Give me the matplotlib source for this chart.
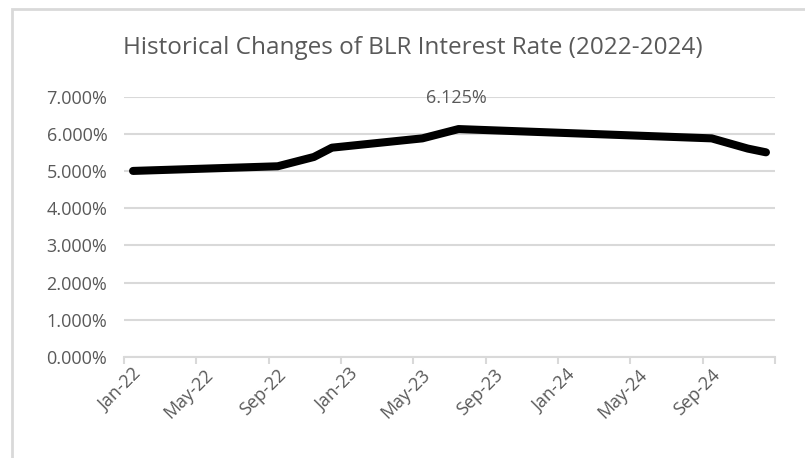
import numpy as np
import matplotlib.pyplot as plt
from matplotlib.patches import Rectangle

# data points (month, BLR %)
dates = ['2022-01', '2022-09', '2022-11', '2022-12', '2023-05',
         '2023-07', '2024-09', '2024-11', '2024-12']
rates = [5.0, 5.125, 5.375, 5.625, 5.875, 6.125, 5.875, 5.6, 5.5]

tick_labels = ['Jan-22', 'May-22', 'Sep-22', 'Jan-23', 'May-23',
               'Sep-23', 'Jan-24', 'May-24', 'Sep-24']
yticks = [0, 1, 2, 3, 4, 5, 6, 7]

plt.rcParams['font.family'] = ['Open Sans', 'DejaVu Sans']
txt = '#595959'
grid = '#d9d9d9'

# month index from Jan-22, points sit in the middle of their month (Excel date axis)
def month_pos(s):
    y, m = s.split('-')
    return (int(y) - 2022) * 12 + int(m) - 1 + 0.5

x = [month_pos(d) for d in dates]

fig = plt.figure(figsize=(8.05, 4.58), dpi=100)
ax = fig.add_axes([124/805, 1-357/458, (775-124)/805, (357-96.5)/458])

ax.plot(x, rates, color='black', lw=5.8, solid_capstyle='round',
        solid_joinstyle='round', zorder=3)

peak = int(np.argmax(rates))
ax.annotate('{:.3f}%'.format(rates[peak]), (x[peak], rates[peak]),
            xytext=(-2, 31), textcoords='offset pixels', ha='center',
            va='center', fontsize=13, color=txt)

ax.set_xlim(0, 36)
ax.set_ylim(0, 7)
ax.set_yticks(yticks)
ax.set_yticklabels(['{:.3f}%'.format(v) for v in yticks], fontsize=13, color=txt)
ax.tick_params(axis='y', length=0, pad=12)
ax.yaxis.grid(True, color=grid, lw=1.5)
ax.set_axisbelow(True)

ax.set_xticks(np.arange(0, 37, 4))
ax.set_xticklabels([])
ax.set_xticks(np.arange(0, 33, 4) + 0.45, minor=True)
ax.set_xticklabels(tick_labels, minor=True, rotation=45, ha='right',
                   va='top', rotation_mode='anchor', fontsize=13, color=txt)
ax.tick_params(axis='x', which='major', length=5, width=1.5, color=grid,
               direction='out')
ax.tick_params(axis='x', which='minor', length=0, pad=6)

for s in ['top', 'right', 'left']:
    ax.spines[s].set_visible(False)
ax.spines['bottom'].set_color(grid)
ax.spines['bottom'].set_linewidth(1.5)

fig.text(413/805, 1-48/458, 'Historical Changes of BLR Interest Rate (2022-2024)',
         ha='center', va='center', fontsize=17.5, color=txt)

# chart area border (cut off at right and bottom in the screenshot)
fig.add_artist(Rectangle((12/805, -0.1), 1.2, 1.1 - 9/458, transform=fig.transFigure,
                         fill=False, edgecolor=grid, lw=2))

fig.savefig('out.png', dpi=100)
